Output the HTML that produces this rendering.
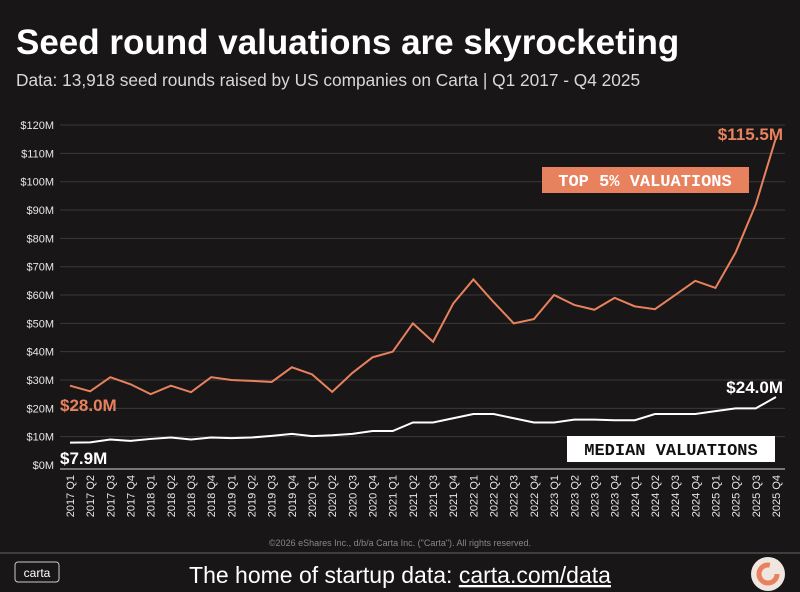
<!DOCTYPE html>
<html><head><meta charset="utf-8"><style>
body{margin:0;background:#181616;width:800px;height:592px;overflow:hidden;font-family:"Liberation Sans",sans-serif;color:#fff}
svg{position:absolute;left:0;top:0}
</style></head><body>
<svg width="800" height="592" id="c">
<text x="16" y="54" font-size="35" font-weight="bold" fill="#fff">Seed round valuations are skyrocketing</text>
<text x="16" y="86" font-size="17.3" fill="#d8d8d8">Data: 13,918 seed rounds raised by US companies on Carta | Q1 2017 - Q4 2025</text>
<g id="grid"></g><g id="xl"></g><g id="lines"></g>
<rect x="542" y="167" width="207" height="26" fill="#e8825e"/>
<text x="645" y="186" font-size="17" font-family="Liberation Mono" font-weight="bold" fill="#fff" text-anchor="middle">TOP 5% VALUATIONS</text>
<rect x="567" y="436" width="208" height="26" fill="#fff"/>
<text x="671" y="455" font-size="17" font-family="Liberation Mono" font-weight="bold" fill="#111" text-anchor="middle">MEDIAN VALUATIONS</text>
<text x="60" y="411" font-size="17" font-weight="bold" fill="#e8825e">$28.0M</text>
<text x="60" y="464" font-size="17" font-weight="bold" fill="#fff">$7.9M</text>
<text x="783" y="140" font-size="17" font-weight="bold" fill="#e8825e" text-anchor="end">$115.5M</text>
<text x="783" y="393" font-size="17" font-weight="bold" fill="#fff" text-anchor="end">$24.0M</text>
<text x="400" y="546" font-size="9" fill="#888" text-anchor="middle">©2026 eShares Inc., d/b/a Carta Inc. ("Carta"). All rights reserved.</text>
<line x1="0" y1="553" x2="800" y2="553" stroke="#666" stroke-width="1"/>
<rect x="15" y="562" width="44" height="20" rx="3" fill="none" stroke="#ccc"/>
<text x="37" y="577" font-size="12" fill="#fff" text-anchor="middle">carta</text>
<text x="400" y="583" font-size="23" fill="#fff" text-anchor="middle">The home of startup data: <tspan text-decoration="underline">carta.com/data</tspan></text>
<circle cx="768" cy="574" r="17" fill="#f0e6df"/>
<circle cx="768" cy="574" r="9" fill="none" stroke="#e8825e" stroke-width="5" stroke-dasharray="44 20"/>
</svg>
<script>
const quarters=[];for(let y=2017;y<=2025;y++)for(let q=1;q<=4;q++)quarters.push(y+" Q"+q);
const top5=[28,26,31,28.5,25,28,25.7,31,30,29.7,29.3,34.5,32,25.8,32.5,38,40,50,43.5,57,65.5,57.5,50,51.5,60,56.5,54.8,59,56,55,60,65,62.5,75,92,115.5];
const median=[7.9,8,9,8.5,9.2,9.7,9,9.7,9.5,9.7,10.3,11,10.2,10.5,11,12,12,15,15,16.5,18,18,16.5,15,15,16,16,15.8,15.8,18,18,18,19,20,20,24];
const yTicks=[0,10,20,30,40,50,60,70,80,90,100,110,120];
const NS="http://www.w3.org/2000/svg";
const X=i=>70+i*20.17, Y=v=>465-v*28.33/10;
function mk(t,a,p){const e=document.createElementNS(NS,t);for(const k in a)e.setAttribute(k,a[k]);p.appendChild(e);return e;}
const g=document.getElementById('grid');
yTicks.forEach(v=>{
 const l=mk('line',{x1:60,x2:785,y1:v?Y(v):Y(v)+4,y2:v?Y(v):Y(v)+4,stroke:v?'#3a3838':'#777','stroke-width':v?1:2},g);
 
 
 const t=mk('text',{x:54,y:Y(v)+4,'font-size':11,fill:'#e6e6e6','text-anchor':'end'},g);
 t.textContent='$'+v+'M';
 
 
});
const xl=document.getElementById('xl');
quarters.forEach((q,i)=>{
 const t=mk('text',{x:0,y:0,'font-size':11,fill:'#e6e6e6','text-anchor':'end',transform:`translate(${X(i)+4},475) rotate(-90)`},xl);
 t.textContent=q;
 
 
});
const L=document.getElementById('lines');
const p1=mk('polyline',{points:top5.map((v,i)=>X(i)+','+Y(v)).join(' '),fill:'none',stroke:'#e8825e','stroke-width':2},L);


const p2=mk('polyline',{points:median.map((v,i)=>X(i)+','+Y(v)).join(' '),fill:'none',stroke:'#fff','stroke-width':2},L);


</script>
</body></html>
